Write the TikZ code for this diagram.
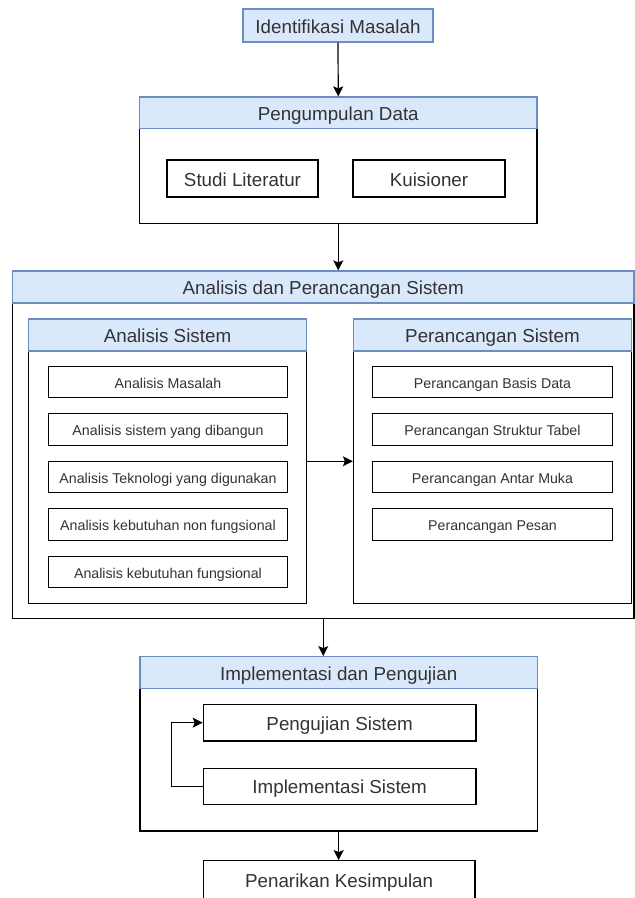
\documentclass[tikz,border=0pt]{standalone}
\usepackage{fontspec}
\setmainfont{Liberation Sans}
\usetikzlibrary{arrows.meta,positioning}
\definecolor{headblue}{HTML}{DAE8FC}
\definecolor{headline}{HTML}{6C8EBF}
\definecolor{textgray}{HTML}{333333}
\newcommand{\bigtxt}{\fontsize{18.8}{22}\selectfont}
\newcommand{\smalltxt}{\fontsize{14.2}{17}\selectfont}

\begin{document}
\begin{tikzpicture}[x=1pt,y=-1pt,>={Stealth[length=10pt,width=10pt,inset=2pt]},
  every node/.style={inner sep=0pt,text=textgray,text height=15pt,text depth=0pt},
  head/.style={draw=headline,fill=headblue,line width=1.2pt,font=\bigtxt},
  panel/.style={draw,fill=white,line width=1.2pt,font=\bigtxt},
  item/.style={draw,fill=white,line width=1.2pt,font=\smalltxt,minimum height=31.5,text height=12.6pt},
  flow/.style={->,line width=1.2pt}]
  \clip (0,0) rectangle (635,898);
  % identifikasi dan pengumpulan data
  \node[head,minimum width=190,minimum height=33] (idm) at (338,25.5) {Identifikasi Masalah};
  \node[panel,minimum width=397.5,minimum height=126.5] (pd) at (338.25,160.25) {};
  \node[head,minimum width=397.5,minimum height=31.5] (pdh) at (338.25,112.75) {Pengumpulan Data};
  \node[panel,minimum width=151,minimum height=37] (studi) at (242.5,178.5) {Studi Literatur};
  \node[panel,minimum width=152,minimum height=37] (kuis) at (429,178.5) {Kuisioner};
  \draw[flow] (idm.south) -- (pdh.north);
  % analisis dan perancangan
  \node[panel,minimum width=621.5,minimum height=347.5] (ads) at (323.25,444.75) {};
  \node[head,minimum width=621.5,minimum height=32] (adsh) at (323.25,287) {Analisis dan Perancangan Sistem};
  \draw[flow] (pd.south) -- (pd.south |- adsh.north);
  \node[panel,minimum width=278,minimum height=284.5] (as) at (167.5,461.25) {};
  \node[head,minimum width=278,minimum height=32] (ash) at (167.5,335) {Analisis Sistem};
  \node[panel,minimum width=278,minimum height=284.5] (ps) at (492.5,461.25) {};
  \node[head,minimum width=278,minimum height=32] (psh) at (492.5,335) {Perancangan Sistem};
  \node[item,minimum width=239] (as1) at (168,382) {Analisis Masalah};
  \node[item,minimum width=239] (as2) at (168,429.5) {Analisis sistem yang dibangun};
  \node[item,minimum width=239] (as3) at (168,477) {Analisis Teknologi yang digunakan};
  \node[item,minimum width=239] (as4) at (168,524.5) {Analisis kebutuhan non fungsional};
  \node[item,minimum width=239] (as5) at (168,572) {Analisis kebutuhan fungsional};
  \node[item,minimum width=240] (ps1) at (492.5,382) {Perancangan Basis Data};
  \node[item,minimum width=240] (ps2) at (492.5,429.5) {Perancangan Struktur Tabel};
  \node[item,minimum width=240] (ps3) at (492.5,477) {Perancangan Antar Muka};
  \node[item,minimum width=240] (ps4) at (492.5,524.5) {Perancangan Pesan};
  \draw[flow] (as.east) -- (ps.west);
  % implementasi dan pengujian
  \node[panel,minimum width=397.3,minimum height=174.3] (imp) at (338.65,743.85) {};
  \node[head,minimum width=397.3,minimum height=31.6] (imph) at (338.65,672.5) {Implementasi dan Pengujian};
  \draw[flow] (ads.south) -- (ads.south |- imph.north);
  \node[panel,minimum width=272.7,minimum height=36.7] (uji) at (339.65,722.65) {Pengujian Sistem};
  \node[panel,minimum width=272.7,minimum height=36] (impl) at (339.65,786.3) {Implementasi Sistem};
  \draw[flow] (impl.west) -- ++(-31.6,0) |- (uji.west);
  % kesimpulan
  \node[panel,minimum width=271.7,minimum height=38] (kes) at (339.15,879.7) {Penarikan Kesimpulan};
  \draw[flow] (imp.south) -- (imp.south |- kes.north);
\end{tikzpicture}
\end{document}
